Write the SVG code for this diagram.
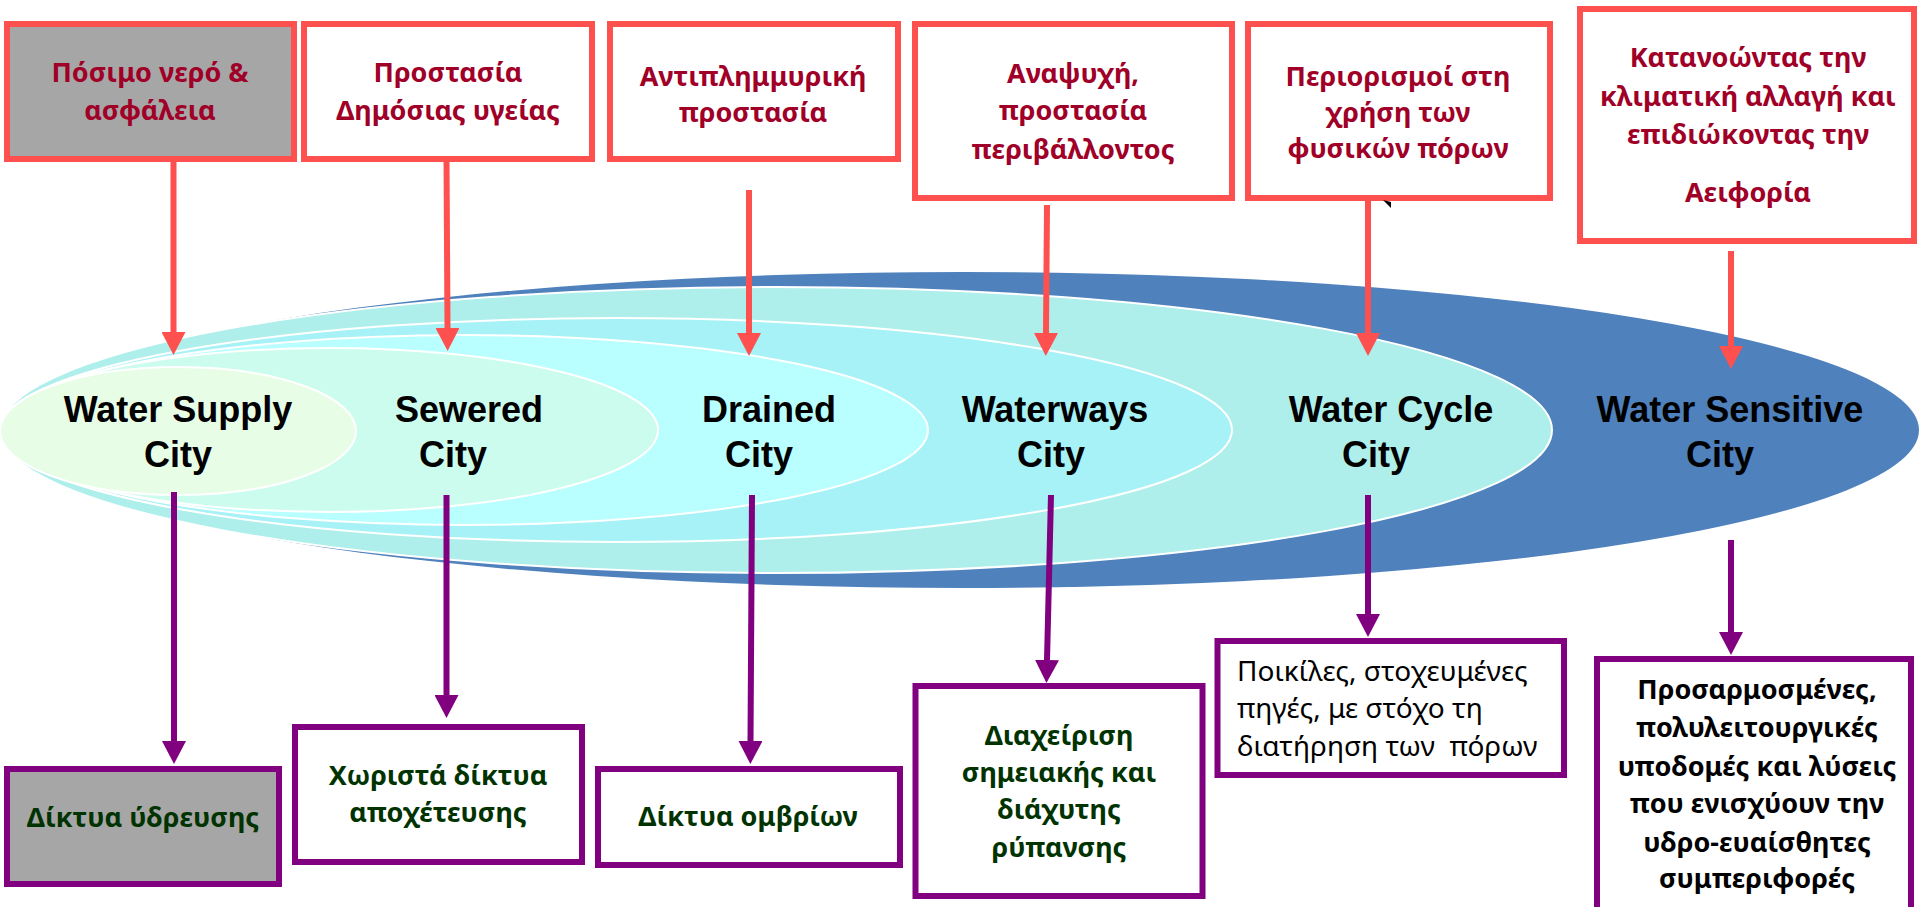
<svg xmlns="http://www.w3.org/2000/svg" width="1920" height="907" viewBox="0 0 1920 907">
<style>
.rb{fill:#fff;stroke:#FF5050;stroke-width:6}
.pb{fill:#fff;stroke:#800080;stroke-width:6}
.rt{font-family:"Noto Sans","Open Sans",sans-serif;font-weight:bold;font-size:27px;fill:#A00028;text-anchor:middle}
.gt{font-family:"Noto Sans","Open Sans",sans-serif;font-weight:bold;font-size:27px;fill:#003300;text-anchor:middle}
.kt{font-family:"Noto Sans","Open Sans",sans-serif;font-weight:bold;font-size:27px;fill:#000;text-anchor:middle}
.nt{font-family:"Noto Sans","Open Sans",sans-serif;font-size:28px;fill:#000;white-space:pre}
.ct{font-family:"Liberation Sans",Arial,sans-serif;font-weight:bold;font-size:36px;fill:#000;text-anchor:middle}
.el{stroke:#fff;stroke-width:2}
.ra{stroke:#FF5050;stroke-width:6;fill:none;marker-end:url(#mr)}
.pa{stroke:#800080;stroke-width:6;fill:none;marker-end:url(#mp)}
</style>
<defs>
<marker id="mr" markerUnits="userSpaceOnUse" markerWidth="24" markerHeight="24" viewBox="0 0 24 24" refX="0" refY="12" orient="auto"><path d="M0,0 L23,12 L0,24z" fill="#FF5050"/></marker>
<marker id="mp" markerUnits="userSpaceOnUse" markerWidth="24" markerHeight="24" viewBox="0 0 24 24" refX="0" refY="12" orient="auto"><path d="M0,0 L23,12 L0,24z" fill="#800080"/></marker>
</defs>
<rect width="1920" height="907" fill="#fff"/>
<g id="stages">
<ellipse id="e-sensitive" cx="963" cy="430" rx="956" ry="158" fill="#4F81BD"/>
<ellipse id="e-cycle" class="el" cx="776" cy="430" rx="776" ry="143" fill="#AEEFEC"/>
<ellipse id="e-waterways" class="el" cx="616" cy="430" rx="616" ry="112" fill="#A6F2F6"/>
<ellipse id="e-drained" class="el" cx="464" cy="430" rx="464" ry="95" fill="#B9FFFF"/>
<ellipse id="e-sewered" class="el" cx="329" cy="430" rx="329" ry="82" fill="#CCFCEE"/>
<ellipse id="e-supply" class="el" cx="178" cy="431" rx="178" ry="64" fill="#E8FDE6"/>
</g>
<g id="city-labels">
<text class="ct" x="178" y="422">Water Supply</text><text class="ct" x="178" y="467">City</text>
<text class="ct" x="469" y="422">Sewered</text><text class="ct" x="453" y="467">City</text>
<text class="ct" x="769" y="422">Drained</text><text class="ct" x="759" y="467">City</text>
<text class="ct" x="1055" y="422">Waterways</text><text class="ct" x="1051" y="467">City</text>
<text class="ct" x="1391" y="422">Water Cycle</text><text class="ct" x="1376" y="467">City</text>
<text class="ct" x="1730" y="422">Water Sensitive</text><text class="ct" x="1720" y="467">City</text>
</g>
<g id="goal1"><rect class="rb" x="7" y="24" width="287" height="135" style="fill:#A6A6A6"/><text class="rt" x="150" y="82">Πόσιμο νερό &amp;</text><text class="rt" x="150" y="120">ασφάλεια</text></g>
<g id="goal2"><rect class="rb" x="304" y="24" width="288" height="135"/><text class="rt" x="448" y="82">Προστασία</text><text class="rt" x="448" y="120">Δημόσιας υγείας</text></g>
<g id="goal3"><rect class="rb" x="610" y="24" width="288" height="135"/><text class="rt" x="753" y="86">Αντιπλημμυρική</text><text class="rt" x="753" y="122">προστασία</text></g>
<g id="goal4"><rect class="rb" x="915" y="24" width="317" height="174"/><text class="rt" x="1073" y="83">Αναψυχή,</text><text class="rt" x="1073" y="120">προστασία</text><text class="rt" x="1073" y="159">περιβάλλοντος</text></g>
<g id="goal5"><rect class="rb" x="1248" y="24" width="302" height="174"/><text class="rt" x="1398" y="86">Περιορισμοί στη</text><text class="rt" x="1398" y="122">χρήση των</text><text class="rt" x="1398" y="158">φυσικών πόρων</text></g>
<g id="goal6"><rect class="rb" x="1580" y="9" width="334" height="232"/><text class="rt" x="1748" y="67">Κατανοώντας την</text><text class="rt" x="1748" y="106">κλιματική αλλαγή και</text><text class="rt" x="1748" y="144">επιδιώκοντας την</text><text class="rt" x="1748" y="202">Αειφορία</text></g>
<g id="out1"><rect class="pb" x="7" y="769" width="272" height="115" style="fill:#A6A6A6"/><text class="gt" x="143" y="827">Δίκτυα ύδρευσης</text></g>
<g id="out2"><rect class="pb" x="295" y="727" width="287" height="135"/><text class="gt" x="438" y="785">Χωριστά δίκτυα</text><text class="gt" x="438" y="822">αποχέτευσης</text></g>
<g id="out3"><rect class="pb" x="598" y="769" width="302" height="96"/><text class="gt" x="748" y="826">Δίκτυα ομβρίων</text></g>
<g id="out4"><rect class="pb" x="915.5" y="686" width="287" height="210"/><text class="gt" x="1059" y="745">Διαχείριση</text><text class="gt" x="1059" y="782">σημειακής και</text><text class="gt" x="1059" y="819">διάχυτης</text><text class="gt" x="1059" y="857">ρύπανσης</text></g>
<g id="out5"><rect class="pb" x="1217.5" y="641" width="346.5" height="134"/><text class="nt" x="1237" y="681">Ποικίλες, στοχευμένες</text><text class="nt" x="1237" y="718">πηγές, με στόχο τη</text><text class="nt" x="1237" y="756">διατήρηση των  πόρων</text></g>
<g id="out6"><rect class="pb" x="1597" y="659" width="314" height="260"/><text class="kt" x="1757" y="699">Προσαρμοσμένες,</text><text class="kt" x="1757" y="737">πολυλειτουργικές</text><text class="kt" x="1757" y="776">υποδομές και λύσεις</text><text class="kt" x="1757" y="813">που ενισχύουν την</text><text class="kt" x="1757" y="852">υδρο-ευαίσθητες</text><text class="kt" x="1757" y="888">συμπεριφορές</text></g>
<g id="connectors">
<line class="ra" x1="173.5" y1="159" x2="173.5" y2="332"/>
<line class="ra" x1="446.5" y1="159" x2="447.5" y2="328"/>
<line class="ra" x1="749" y1="190" x2="749" y2="333"/>
<line class="ra" x1="1047" y1="205" x2="1046" y2="333"/>
<line class="ra" x1="1368" y1="198" x2="1368" y2="333"/>
<line class="ra" x1="1731" y1="251" x2="1731" y2="346"/>
<line class="pa" x1="174" y1="492" x2="174" y2="741"/>
<line class="pa" x1="446.5" y1="495" x2="446.5" y2="695"/>
<line class="pa" x1="752" y1="495" x2="750.5" y2="741"/>
<line class="pa" x1="1051" y1="495" x2="1047" y2="660"/>
<line class="pa" x1="1368" y1="495" x2="1368" y2="614"/>
<line class="pa" x1="1731" y1="540" x2="1731" y2="632"/>
<polygon points="1383,200 1391,202 1391,208" fill="#000"/>
</g>
</svg>
